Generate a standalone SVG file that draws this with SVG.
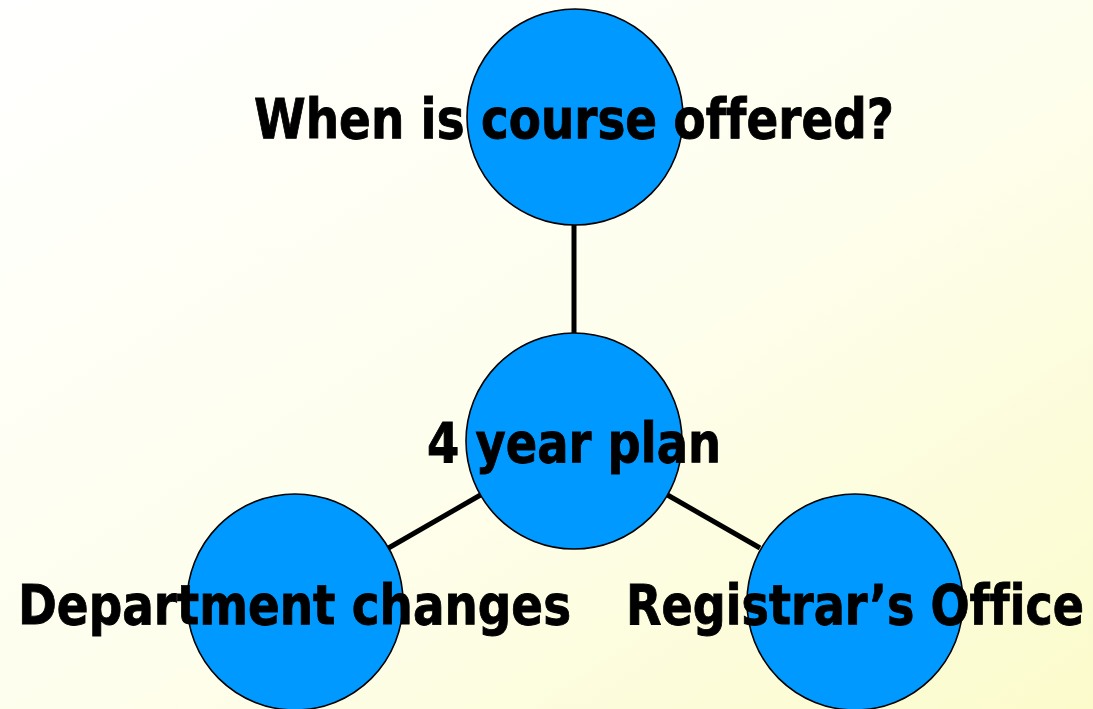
<svg xmlns="http://www.w3.org/2000/svg" width="1093" height="709" viewBox="0 0 1093 709">
<defs>
<linearGradient id="bg" x1="0" y1="0" x2="1" y2="1">
<stop offset="0" stop-color="#FFFFFF"/>
<stop offset="0.55" stop-color="#FEFEEC"/>
<stop offset="1" stop-color="#FBFBCC"/>
</linearGradient>
<style>
.node{fill:#0099FF;stroke:#000;stroke-width:1.6}
.conn{stroke:#000;stroke-width:5;fill:none}
.lbl{font-family:Tahoma,"DejaVu Sans",sans-serif;font-weight:bold;font-size:55px;fill:#000;stroke:#000;stroke-width:0.9;font-variant-ligatures:none}
</style>
</defs>
<rect x="0" y="0" width="1093" height="709" fill="url(#bg)"/>
<g id="connectors">
<line class="conn" x1="574" y1="225" x2="574" y2="333"/>
<line class="conn" x1="480.5" y1="495" x2="388.5" y2="548"/>
<line class="conn" x1="667.5" y1="495" x2="760" y2="548"/>
</g>
<g id="node-top">
<circle class="node" cx="575" cy="117" r="108"/>
<text class="lbl" x="254" y="138" textLength="640" lengthAdjust="spacingAndGlyphs">When is course offered?</text>
</g>
<g id="node-center">
<circle class="node" cx="574" cy="441" r="108"/>
<text class="lbl" x="427" y="462" textLength="294" lengthAdjust="spacingAndGlyphs">4 year plan</text>
</g>
<g id="node-left">
<circle class="node" cx="295" cy="602" r="108"/>
<text class="lbl" x="18" y="624" textLength="553" lengthAdjust="spacingAndGlyphs">Department changes</text>
</g>
<g id="node-right">
<circle class="node" cx="855" cy="602" r="108"/>
<text class="lbl" x="626" y="624" textLength="458" lengthAdjust="spacingAndGlyphs">Registrar’s Office</text>
</g>
</svg>
